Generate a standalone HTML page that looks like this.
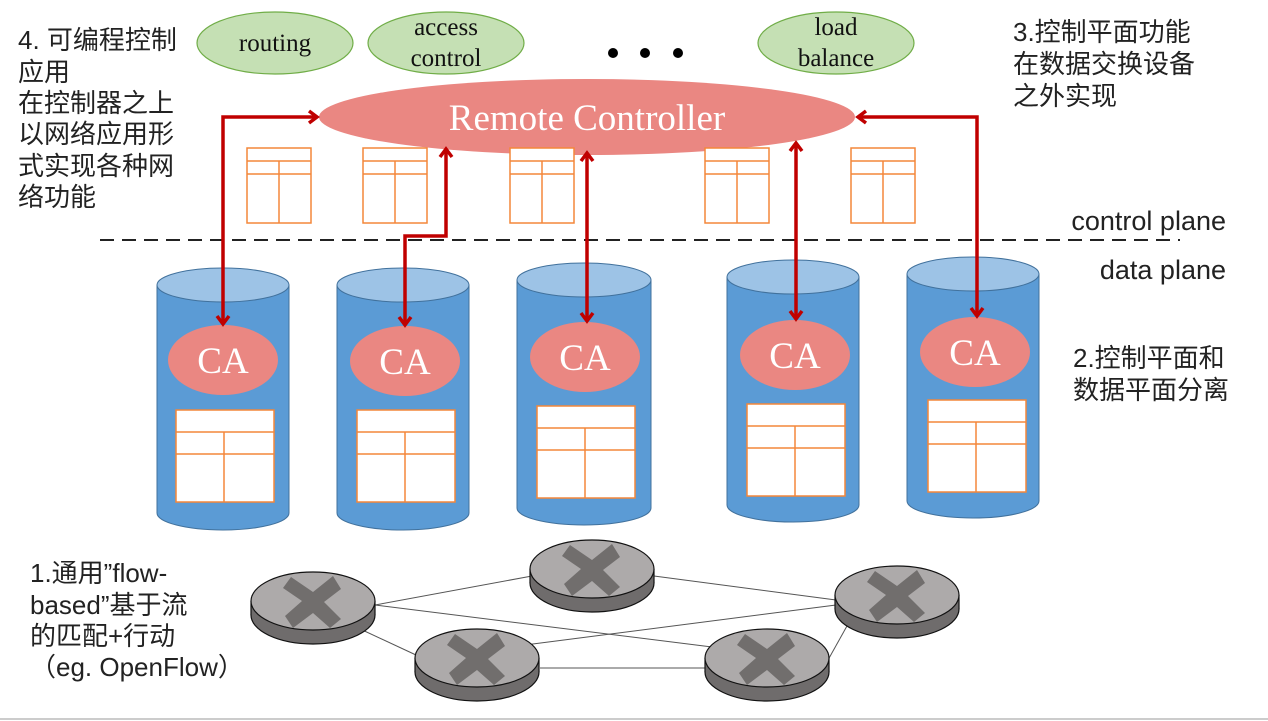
<!DOCTYPE html>
<html><head><meta charset="utf-8"><style>
html,body{margin:0;padding:0;background:#fff;}
svg{display:block;}
.t{font-family:"Liberation Sans","Noto Sans CJK SC",sans-serif;font-size:26px;fill:#222;}
.s{font-family:"Liberation Serif",serif;}
</style></head><body>
<svg width="1268" height="721" viewBox="0 0 1268 721" xmlns="http://www.w3.org/2000/svg">
<defs>
<marker id="ah" viewBox="0 0 10 10" refX="9" refY="5" markerWidth="10" markerHeight="10" orient="auto-start-reverse" markerUnits="userSpaceOnUse" style="overflow:visible">
<path d="M1,-1 L9,5 L1,11" fill="none" stroke="#c00000" stroke-width="3.5"/>
</marker>
<g id="tbl"><rect x="0" y="0" width="64" height="75" fill="#fff" stroke="#f4873a" stroke-width="1.5"/><line x1="0" y1="13" x2="64" y2="13" stroke="#f4873a" stroke-width="1.5"/><line x1="0" y1="26" x2="64" y2="26" stroke="#f4873a" stroke-width="1.5"/><line x1="32" y1="13" x2="32" y2="75" stroke="#f4873a" stroke-width="1.5"/></g>
<g id="btbl"><rect x="0" y="0" width="98" height="92" fill="#fff" stroke="#f4873a" stroke-width="1.5"/><line x1="0" y1="22" x2="98" y2="22" stroke="#f4873a" stroke-width="1.5"/><line x1="0" y1="44" x2="98" y2="44" stroke="#f4873a" stroke-width="1.5"/><line x1="48" y1="22" x2="48" y2="92" stroke="#f4873a" stroke-width="1.5"/></g>
<g id="rt">
<ellipse cx="0" cy="14" rx="62" ry="29" fill="#6f6c6c" stroke="#111" stroke-width="1.2"/>
<rect x="-62" y="0" width="124" height="14" fill="#6f6c6c"/>
<line x1="-62" y1="0" x2="-62" y2="14" stroke="#111" stroke-width="1.2"/><line x1="62" y1="0" x2="62" y2="14" stroke="#111" stroke-width="1.2"/>
<ellipse cx="0" cy="0" rx="62" ry="29" fill="#adaaaa" stroke="#111" stroke-width="1.2"/>
<path d="M-22,-24 L0,-9 L20,-25 L28,-12 L11,1 L28,18 L17,27 L0,12 L-20,27 L-28,15 L-11,0 L-30,-13 Z" fill="#716e6d"/>
</g>
</defs>

<ellipse cx="275" cy="43" rx="78" ry="31" fill="#c5e0b4" stroke="#70ad47" stroke-width="1.2"/>
<text x="275" y="51" text-anchor="middle" class="s" font-size="25" fill="#111">routing</text>
<ellipse cx="446" cy="43" rx="78" ry="31" fill="#c5e0b4" stroke="#70ad47" stroke-width="1.2"/>
<text x="446" y="35" text-anchor="middle" class="s" font-size="25" fill="#111">access</text>
<text x="446" y="66" text-anchor="middle" class="s" font-size="25" fill="#111">control</text>
<ellipse cx="836" cy="43" rx="78" ry="31" fill="#c5e0b4" stroke="#70ad47" stroke-width="1.2"/>
<text x="836" y="35" text-anchor="middle" class="s" font-size="25" fill="#111">load</text>
<text x="836" y="66" text-anchor="middle" class="s" font-size="25" fill="#111">balance</text>
<circle cx="613" cy="53" r="5" fill="#000"/><circle cx="645" cy="53" r="5" fill="#000"/><circle cx="678" cy="53" r="5" fill="#000"/>

<ellipse cx="587" cy="117" rx="268" ry="38" fill="#ea8782"/>
<text x="587" y="130" text-anchor="middle" class="s" font-size="37" fill="#fff">Remote Controller</text>

<use href="#tbl" x="247" y="148"/><use href="#tbl" x="363" y="148"/><use href="#tbl" x="510" y="148"/><use href="#tbl" x="705" y="148"/><use href="#tbl" x="851" y="148"/>

<line x1="100" y1="240" x2="1180" y2="240" stroke="#222" stroke-width="2" stroke-dasharray="14,8"/>

<g>
<path d="M157,285 V513 A66,17 0 0 0 289,513 V285 Z" fill="#5b9bd5" stroke="#41719c" stroke-width="1"/>
<ellipse cx="223" cy="285" rx="66" ry="17" fill="#9dc3e6" stroke="#41719c" stroke-width="1"/>
<path d="M337,285 V513 A66,17 0 0 0 469,513 V285 Z" fill="#5b9bd5" stroke="#41719c" stroke-width="1"/>
<ellipse cx="403" cy="285" rx="66" ry="17" fill="#9dc3e6" stroke="#41719c" stroke-width="1"/>
<path d="M517,280 V508 A67,17 0 0 0 651,508 V280 Z" fill="#5b9bd5" stroke="#41719c" stroke-width="1"/>
<ellipse cx="584" cy="280" rx="67" ry="17" fill="#9dc3e6" stroke="#41719c" stroke-width="1"/>
<path d="M727,277 V505 A66,17 0 0 0 859,505 V277 Z" fill="#5b9bd5" stroke="#41719c" stroke-width="1"/>
<ellipse cx="793" cy="277" rx="66" ry="17" fill="#9dc3e6" stroke="#41719c" stroke-width="1"/>
<path d="M907,274 V501 A66,17 0 0 0 1039,501 V274 Z" fill="#5b9bd5" stroke="#41719c" stroke-width="1"/>
<ellipse cx="973" cy="274" rx="66" ry="17" fill="#9dc3e6" stroke="#41719c" stroke-width="1"/>
</g>
<g class="s" font-size="37" fill="#fff" text-anchor="middle">
<ellipse cx="223" cy="360" rx="55" ry="35" fill="#ea8782"/><text x="223" y="373">CA</text>
<ellipse cx="405" cy="361" rx="55" ry="35" fill="#ea8782"/><text x="405" y="374">CA</text>
<ellipse cx="585" cy="357" rx="55" ry="35" fill="#ea8782"/><text x="585" y="370">CA</text>
<ellipse cx="795" cy="355" rx="55" ry="35" fill="#ea8782"/><text x="795" y="368">CA</text>
<ellipse cx="975" cy="352" rx="55" ry="35" fill="#ea8782"/><text x="975" y="365">CA</text>
</g>
<use href="#btbl" x="176" y="410"/><use href="#btbl" x="357" y="410"/><use href="#btbl" x="537" y="406"/><use href="#btbl" x="747" y="404"/><use href="#btbl" x="928" y="400"/>

<g fill="none" stroke="#c00000" stroke-width="3.5">
<polyline points="223,324 223,117 317,117" marker-start="url(#ah)" marker-end="url(#ah)"/>
<polyline points="405,325 405,236 446,236 446,149" marker-start="url(#ah)" marker-end="url(#ah)"/>
<line x1="587" y1="153" x2="587" y2="321" marker-start="url(#ah)" marker-end="url(#ah)"/>
<line x1="796" y1="143" x2="796" y2="319" marker-start="url(#ah)" marker-end="url(#ah)"/>
<polyline points="858,117 977,117 977,316" marker-start="url(#ah)" marker-end="url(#ah)"/>
</g>

<g stroke="#555" stroke-width="1">
<line x1="375" y1="605" x2="532" y2="576"/>
<line x1="375" y1="605" x2="720" y2="648"/>
<line x1="358" y1="628" x2="416" y2="655"/>
<line x1="654" y1="576" x2="836" y2="600"/>
<line x1="525" y1="645" x2="836" y2="605"/>
<line x1="540" y1="668" x2="705" y2="668"/>
<line x1="828" y1="660" x2="852" y2="617"/>
</g>
<use href="#rt" x="313" y="601"/>
<use href="#rt" x="592" y="569"/>
<use href="#rt" x="897" y="595"/>
<use href="#rt" x="477" y="658"/>
<use href="#rt" x="767" y="658"/>

<g class="t">
<text x="18" y="49">4. 可编程控制</text>
<text x="18" y="81">应用</text>
<text x="18" y="112">在控制器之上</text>
<text x="18" y="143">以网络应用形</text>
<text x="18" y="175">式实现各种网</text>
<text x="18" y="206">络功能</text>
<text x="1013" y="41">3.控制平面功能</text>
<text x="1013" y="73">在数据交换设备</text>
<text x="1013" y="105">之外实现</text>
<text x="1226" y="230" text-anchor="end" font-size="27">control plane</text>
<text x="1226" y="279" text-anchor="end" font-size="27">data plane</text>
<text x="1073" y="367">2.控制平面和</text>
<text x="1073" y="399">数据平面分离</text>
<text x="30" y="582">1.通用”flow-</text>
<text x="30" y="614">based”基于流</text>
<text x="30" y="645">的匹配+行动</text>
<text x="30" y="676">（eg. OpenFlow）</text>
</g>
<line x1="0" y1="719" x2="1268" y2="719" stroke="#ccc" stroke-width="2"/>
</svg>
</body></html>
